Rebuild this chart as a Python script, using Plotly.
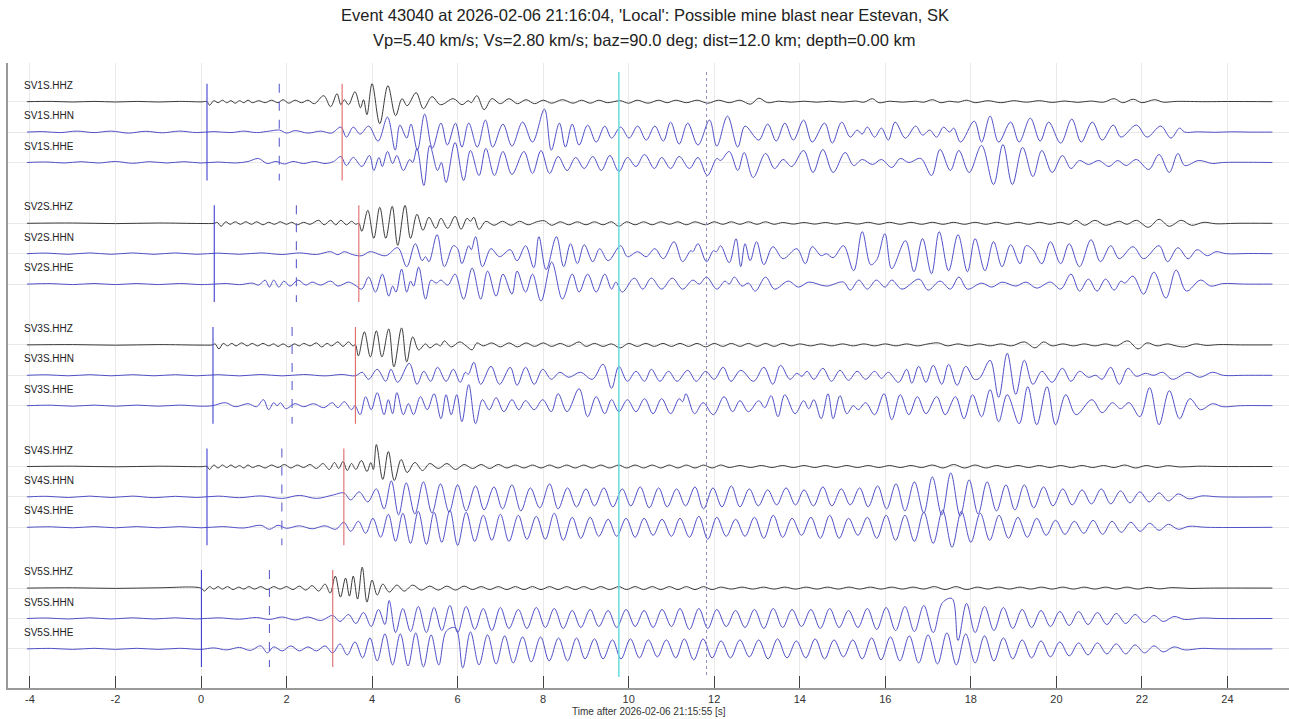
import plotly.graph_objects as go

TITLE_1 = "Event 43040 at 2026-02-06 21:16:04, 'Local': Possible mine blast near Estevan, SK"
TITLE_2 = "Vp=5.40 km/s; Vs=2.80 km/s; baz=90.0 deg; dist=12.0 km; depth=0.00 km"
X_LABEL = "Time after 2026-02-06 21:15:55 [s]"
X_TICKS = [-4, -2, 0, 2, 4, 6, 8, 10, 12, 14, 16, 18, 20, 22, 24]

STATIONS = ["SV1S", "SV2S", "SV3S", "SV4S", "SV5S"]
COMPONENTS = ["HHZ", "HHN", "HHE"]
P_PICKS = [0.14, 0.31, 0.28, 0.14, 0.01]
MID_PICKS = [1.83, 2.23, 2.13, 1.89, 1.60]
S_PICKS = [3.30, 3.69, 3.61, 3.34, 3.08]
CYAN_TIME = 9.77
DOTTED_TIME = 11.82

# waveform extrema: (time [s], amplitude [px, up positive])
SV1_HHZ = [(-4.07,0),(-3.5,0.3),(-3.0,-0.3),(-2.5,0.3),(-2.0,-0.3),(-1.5,0.3),(-1.0,-0.3),(-0.5,0.3),(0.0,-0.2),(0.14,0),
(0.2,-3.5),(0.3,1),(0.4,-1),(0.5,1.5),(0.6,-1),(0.7,1),(0.8,-1.5),(0.9,1),(1.0,-1),(1.1,1.5),(1.2,-1),(1.35,1),(1.5,-1),(1.65,1.5),(1.8,-1),(1.92,2),(2.05,-1.5),(2.2,1.5),(2.35,-1),(2.5,1.5),(2.65,-2),(2.87,6),(3.03,-5),(3.18,8),(3.27,-3),(3.35,2),(3.45,-3),(3.6,10),(3.73,-6),(3.8,2),(3.88,-13),(4.0,18),(4.18,-22),(4.37,16),(4.55,-14),(4.7,3),(4.82,-4),(5.03,9),(5.2,-7),(5.4,5),(5.6,-3),(5.9,3),(6.1,-3),(6.25,1),(6.32,-1),(6.45,6),(6.62,-8),(6.8,3),(7.0,-2),(7.2,3),(7.4,-2),(7.6,2),(7.8,-2),(8.0,1.5),(8.2,-1.5),(8.45,2),(8.7,-1.5),(8.9,1.5),(9.1,-1.5),(9.3,1.5),(9.5,-1),(9.8,1),(10.0,-1.5),(10.2,1.5),(10.45,-1.5),(10.7,1.5),(10.9,-1),(11.1,1.5),(11.35,-1),(11.6,1.5),(11.85,-1.5),(12.1,1.5),(12.35,-1),(12.6,1.5),(12.85,-2.5),(13.04,3.5),(13.25,-1),(13.5,0.5),(13.8,-0.5),(14.1,0.5),(14.4,-0.5),(14.7,0.5),(15.0,-0.5),(15.3,0.7),(15.5,-0.5),(15.7,3),(15.85,-1),(16.1,0.5),(16.4,-0.5),(16.7,0.5),(16.9,-0.5),(17.1,2),(17.3,-1),(17.5,0.5),(17.7,-0.5),(17.9,1.5),(18.1,-1),(18.4,1),(18.7,-1),(19.0,1),(19.3,-0.5),(19.6,1),(19.9,-0.7),(20.2,0.7),(20.5,-0.7),(20.8,0.7),(21.1,-0.5),(21.35,3),(21.55,-1),(21.8,2.5),(22.0,-1),(22.3,2),(22.5,-0.5),(22.8,0.3),(23.5,0),(24.0,0.2),(25.05,0)]
SV1_HHN = [(-4.07,0),(-3.7,0.5),(-3.3,-0.5),(-2.9,1),(-2.5,-0.5),(-2.1,1),(-1.7,-1),(-1.3,0.8),(-0.9,-0.7),(-0.5,1),(-0.1,-0.5),(0.3,0.5),(0.7,-0.5),(1.0,1),(1.3,-0.5),(1.6,1),(1.84,2),(2.0,-1),(2.2,1.5),(2.5,-1),(2.8,1),(3.05,-1),(3.27,5),(3.4,-5),(3.56,5),(3.72,-2),(3.92,6),(4.14,-9),(4.36,15),(4.54,-18),(4.65,7),(4.81,-6),(4.91,8),(5.06,-18),(5.23,18),(5.41,-16),(5.61,9),(5.76,-13),(5.95,9),(6.10,-15),(6.26,9),(6.46,-15),(6.65,12),(6.82,-15),(7.06,8),(7.27,-14),(7.52,10),(7.75,-10),(8.03,23),(8.19,-18),(8.38,9),(8.52,-15),(8.68,8),(8.84,-13),(9.04,7),(9.24,-10),(9.44,6),(9.60,-6),(9.81,5),(10.01,-6),(10.21,6),(10.41,-8),(10.61,6),(10.81,-9),(10.98,10),(11.18,-12),(11.38,9),(11.62,-13),(11.89,12),(12.06,-14),(12.31,16),(12.55,-15),(12.72,6),(13.04,-8),(13.25,8),(13.45,-9),(13.65,9),(13.85,-8),(14.09,12),(14.29,-10),(14.58,9),(14.76,-11),(14.98,10),(15.18,-5),(15.34,2),(15.46,-2),(15.58,5),(15.75,-5),(15.91,4),(16.07,-8),(16.23,10),(16.47,-6),(16.71,6),(16.87,-3),(17.04,2),(17.20,-5),(17.36,5),(17.50,0),(17.60,4),(17.76,-10),(18.08,11),(18.25,-10),(18.45,16),(18.65,-10),(18.93,10),(19.13,-10),(19.39,14),(19.62,-9),(19.82,10),(20.10,-11),(20.36,13),(20.58,-10),(20.84,10),(21.07,-8),(21.33,7),(21.51,-5),(21.87,7),(22.12,-5),(22.44,6),(22.68,-6),(22.88,4),(23.0,0),(23.3,0.3),(23.7,-0.2),(24.1,0.3),(24.5,0),(25.05,0)]
SV1_HHE = [(-4.07,0),(-3.6,0.5),(-3.2,-0.5),(-2.8,0.8),(-2.4,-0.5),(-2.0,1),(-1.6,-0.8),(-1.2,0.8),(-0.8,-0.5),(-0.4,0.8),(0.0,-0.5),(0.4,0.5),(0.8,-0.5),(1.1,1),(1.34,4),(1.55,-1),(1.75,1),(1.95,-1.5),(2.15,1),(2.4,-1),(2.65,1),(2.9,-1),(3.1,1),(3.27,6),(3.40,-3),(3.56,5),(3.76,-4),(3.94,7),(4.04,-8),(4.16,5),(4.24,-4),(4.36,11),(4.48,-1),(4.58,7),(4.73,-8),(4.88,3),(4.95,0),(5.05,14),(5.21,-23),(5.35,17),(5.53,-8),(5.62,0),(5.73,-20),(5.94,20),(6.14,-18),(6.30,12),(6.50,-13),(6.66,14),(6.86,-13),(7.06,11),(7.27,-12),(7.55,11),(7.75,-11),(7.95,12),(8.15,-11),(8.35,6),(8.56,-8),(8.76,5),(8.96,-6),(9.16,6),(9.36,-8),(9.56,7),(9.77,-9),(9.97,5),(10.17,-4),(10.37,8),(10.60,-6),(10.77,5),(10.98,-6),(11.18,6),(11.42,-6),(11.62,5),(11.84,-13),(12.06,4),(12.15,2),(12.35,11),(12.55,-8),(12.7,10),(12.91,-15),(13.2,9),(13.41,-6),(13.61,3),(13.81,-4),(14.09,12),(14.31,-10),(14.54,13),(14.78,-10),(15.06,10),(15.26,-3),(15.46,3),(15.7,-2),(15.91,3),(16.15,-5),(16.35,4),(16.55,0),(16.83,4),(17.08,-13),(17.28,13),(17.52,-8),(17.72,12),(17.96,-10),(18.25,17),(18.53,-22),(18.75,18),(18.97,-22),(19.21,15),(19.45,-14),(19.66,12),(19.9,-10),(20.14,7),(20.34,-6),(20.54,2),(20.75,-2),(20.99,2),(21.23,-4),(21.43,2),(21.63,-3),(21.87,3),(22.16,-7),(22.4,8),(22.64,-10),(22.84,9),(23.0,-3),(23.33,2),(23.65,-1),(23.89,0),(24.5,0.2),(25.05,0)]

SV2_HHZ = [(-4.07,0),(-3,0.3),(-2,-0.3),(-1,0.3),(0,-0.2),(0.31,0),(0.38,1),(0.47,-3),(0.58,1.5),(0.68,-1),(0.8,1.5),(0.92,-1),(1.05,1.5),(1.18,-1),(1.3,1.5),(1.45,-1.5),(1.58,1),(1.72,-1),(1.85,1.5),(2.0,-1),(2.12,1),(2.25,-1.5),(2.4,1),(2.55,-1),(2.75,3),(2.88,-1.5),(3.03,3),(3.15,-1.5),(3.27,3),(3.4,-1.5),(3.52,2),(3.62,-1),(3.69,0),(3.76,-8),(3.9,13),(4.04,-15),(4.18,16),(4.32,-15),(4.47,17),(4.6,-22),(4.77,18),(4.9,-15),(5.05,9),(5.19,-7),(5.33,6),(5.49,-5),(5.61,5),(5.77,-5),(5.94,7),(6.08,-6),(6.22,5),(6.3,2),(6.38,6),(6.5,-6),(6.66,2),(6.85,-2),(7.05,2),(7.25,-2),(7.45,2),(7.65,-1.5),(7.85,1.5),(8.03,2.5),(8.2,-2),(8.4,1.5),(8.6,-1.5),(8.8,1.5),(9.0,-1.5),(9.2,1.5),(9.4,-1.5),(9.6,1.5),(9.77,-3),(9.95,1.5),(10.15,-1.5),(10.35,1.5),(10.55,-1.5),(10.75,1.5),(10.95,-1),(11.15,1.5),(11.35,-1.5),(11.55,1.5),(11.8,-1.5),(12.0,1.5),(12.2,-1),(12.4,1.5),(12.6,-1),(12.8,1.5),(13.0,-1),(13.2,1.5),(13.4,-1),(13.6,0.8),(13.85,-0.8),(14.1,0.8),(14.35,-0.8),(14.6,0.8),(14.85,-0.8),(15.1,0.8),(15.35,-0.8),(15.6,1),(15.85,-1),(16.1,1),(16.35,-1),(16.6,1),(16.85,-1),(17.1,1),(17.35,-1),(17.6,1),(17.85,-1),(18.1,1),(18.35,-1),(18.6,1),(18.85,-1),(19.1,1),(19.35,-1),(19.6,1),(19.85,-1),(20.1,1),(20.3,-1),(20.46,3),(20.66,-2),(20.9,3),(21.15,-2),(21.47,2),(21.65,-1),(21.87,3),(22.15,-4),(22.4,4),(22.64,-3),(22.92,3),(23.16,-2),(23.45,1),(23.73,-0.5),(24.2,0),(25.05,0)]
SV2_HHN = [(-4.07,0),(-3.6,0.6),(-3.1,-0.6),(-2.6,0.8),(-2.1,-0.6),(-1.6,0.8),(-1.1,-0.6),(-0.6,0.8),(-0.1,-0.6),(0.4,0.6),(0.9,-0.6),(1.4,0.8),(1.9,-0.8),(2.3,0.8),(2.7,-0.8),(3.03,2),(3.2,-1),(3.35,2),(3.55,-1),(3.76,-2),(3.95,2),(4.32,-2),(4.6,6),(4.81,-13),(5.01,10),(5.17,-7),(5.25,-3),(5.33,-8),(5.52,19),(5.69,-13),(5.9,8),(6.0,5),(6.1,-10),(6.26,8),(6.32,4),(6.42,17),(6.58,-13),(6.78,5),(6.98,-3),(7.23,4),(7.39,-7),(7.59,8),(7.78,-14),(7.9,17),(8.07,-16),(8.31,17),(8.48,-13),(8.64,10),(8.8,-10),(8.96,9),(9.16,-8),(9.32,5),(9.52,-7),(9.81,8),(9.97,-3),(10.21,2),(10.41,-3),(10.61,5),(10.81,-5),(11.06,12),(11.26,-8),(11.45,3),(11.5,2),(11.62,10),(11.82,-8),(11.98,3),(12.05,2),(12.15,8),(12.35,-9),(12.51,15),(12.62,-13),(12.72,10),(12.84,-7),(12.99,12),(13.16,-11),(13.37,7),(13.61,-5),(13.93,5),(14.13,-10),(14.29,7),(14.5,-2),(14.62,0),(14.78,-4),(15.02,8),(15.26,-17),(15.46,22),(15.66,-11),(15.8,-6),(15.99,20),(16.15,-15),(16.47,13),(16.67,-18),(16.87,15),(17.08,-20),(17.26,22),(17.48,-17),(17.7,19),(17.92,-18),(18.1,15),(18.33,-17),(18.53,12),(18.73,-13),(18.93,9),(19.15,-10),(19.29,8),(19.45,4),(19.66,-10),(19.86,12),(20.1,-10),(20.3,10),(20.54,-13),(20.81,14),(21.03,-8),(21.27,8),(21.47,-5),(21.79,7),(22.04,-5),(22.4,8),(22.6,-8),(22.84,6),(23.08,-5),(23.29,4),(23.53,-2),(23.73,2),(23.97,0),(24.5,0.2),(25.05,0)]
SV2_HHE = [(-4.07,0),(-3.5,0.5),(-3.0,-0.5),(-2.5,0.6),(-2.0,-0.5),(-1.5,0.6),(-1.0,-0.5),(-0.5,0.6),(0.0,-0.5),(0.31,0),(0.6,0.6),(0.9,-0.6),(1.2,1),(1.35,-1),(1.5,4),(1.6,-3),(1.7,4),(1.82,-3),(1.94,3),(2.08,-2),(2.27,4),(2.45,-1),(2.6,2),(2.8,-1),(3.03,3),(3.2,-2),(3.45,2),(3.6,-1),(3.76,-5),(3.92,7),(4.08,-8),(4.24,10),(4.39,-12),(4.48,-2),(4.56,-8),(4.69,15),(4.81,-8),(4.9,3),(4.97,-2),(5.09,17),(5.25,-15),(5.38,4),(5.5,1),(5.61,4),(5.77,-1),(5.94,10),(6.14,-15),(6.34,16),(6.54,-15),(6.7,13),(6.9,-12),(7.06,10),(7.27,-10),(7.39,13),(7.59,-8),(7.75,10),(7.95,-17),(8.2,22),(8.45,-15),(8.68,10),(8.84,-8),(9.04,10),(9.24,-8),(9.44,10),(9.6,-5),(9.7,2),(9.85,-8),(10.13,6),(10.33,-5),(10.53,6),(10.77,-5),(11.02,6),(11.26,-5),(11.5,4),(11.65,0),(11.82,7),(12.06,-5),(12.25,3),(12.35,0),(12.47,7),(12.65,-2),(12.8,1),(12.96,-7),(13.2,7),(13.41,-5),(13.73,3),(13.97,-3),(14.21,2),(14.62,-2),(15.02,2),(15.18,-6),(15.38,4),(15.58,-5),(15.79,4),(15.99,-3),(16.15,4),(16.39,-5),(16.79,5),(17.0,-6),(17.28,3),(17.52,-5),(17.72,7),(17.92,-5),(18.25,1),(18.49,-3),(18.73,2),(19.05,-2),(19.29,2),(19.54,-4),(19.86,2),(20.1,-5),(20.34,10),(20.54,-7),(20.75,5),(20.95,-7),(21.15,5),(21.35,-6),(21.51,3),(21.6,1),(21.79,8),(22.04,-10),(22.28,12),(22.56,-14),(22.8,14),(23.04,-7),(23.37,4),(23.61,-2),(23.89,0.5),(24.4,0),(25.05,0)]

SV3_HHZ = [(-4.07,0),(-3,0.3),(-2,-0.3),(-1,0.3),(0,-0.2),(0.27,0),(0.33,1),(0.42,-4),(0.52,1.5),(0.62,-1),(0.72,1.5),(0.82,-1),(0.95,2),(1.08,-1),(1.2,1.5),(1.32,-1),(1.45,1.5),(1.58,-1),(1.7,1),(1.8,-1.5),(1.92,1),(2.05,-2),(2.18,1),(2.3,-1),(2.4,1.5),(2.55,-1),(2.7,2),(2.82,-2),(2.95,1.5),(3.05,-1),(3.2,3),(3.32,-1.5),(3.45,3),(3.55,-1),(3.61,0),(3.68,-11),(3.82,13),(3.96,-12),(4.1,14),(4.23,-12),(4.39,16),(4.51,-22),(4.69,17),(4.81,-17),(4.95,8),(5.09,-5),(5.25,1),(5.35,-3),(5.5,1),(5.6,-1),(5.69,4),(5.85,-2),(6.05,3),(6.2,-1),(6.34,-5),(6.45,2),(6.6,-1),(6.8,2),(7.0,-2),(7.2,2),(7.4,-2),(7.6,2),(7.8,-1.5),(8.0,2),(8.2,-1.5),(8.4,1.5),(8.6,-1.5),(8.84,3),(9.0,-1.5),(9.2,1.5),(9.4,-1.5),(9.6,1),(9.8,-3),(10.0,1.5),(10.2,-1.5),(10.4,1.5),(10.6,-1.5),(10.8,1.5),(11.0,-1.5),(11.2,1.5),(11.4,-1.5),(11.6,1.5),(11.8,-2),(12.0,1.5),(12.2,-1.5),(12.4,1.5),(12.6,-1.5),(12.8,1.5),(13.0,-1.5),(13.2,1.5),(13.4,-1.5),(13.6,1.5),(13.8,-1),(14.0,1),(14.25,-1),(14.5,1),(14.75,-1),(15.0,1),(15.25,-1),(15.5,1),(15.75,-1),(16.0,1),(16.25,-1),(16.5,1),(16.75,-1),(17.0,1),(17.24,2),(17.45,-1),(17.7,1),(17.95,-1),(18.2,1),(18.45,-1),(18.7,1),(18.95,-1),(19.25,3),(19.5,-3),(19.7,3),(19.9,-1),(20.15,1),(20.4,-1),(20.65,1),(20.9,-1),(21.15,1),(21.4,-1),(21.67,4),(21.91,-4),(22.12,2),(22.35,-1),(22.6,1),(22.8,-1),(23.0,-2),(23.25,1),(23.5,-0.5),(23.8,0.3),(24.3,0),(25.05,0)]
SV3_HHN = [(-4.07,0),(-3.6,0.5),(-3.1,-0.5),(-2.6,0.6),(-2.1,-0.5),(-1.6,0.6),(-1.1,-0.5),(-0.6,0.6),(-0.1,-0.5),(0.4,0.6),(0.9,-0.6),(1.4,0.8),(1.9,-0.6),(2.4,0.8),(2.9,-0.6),(3.3,0.8),(3.61,-0.5),(3.77,3),(3.92,-4),(4.12,6),(4.32,-6),(4.44,6),(4.6,-7),(4.87,12),(5.05,-9),(5.21,4),(5.37,-6),(5.53,8),(5.73,-6),(5.9,6),(6.06,-7),(6.18,3),(6.25,1),(6.38,13),(6.54,-9),(6.78,9),(6.98,-9),(7.23,8),(7.39,-10),(7.59,8),(7.79,-9),(7.99,6),(8.19,-4),(8.39,3),(8.6,-2),(8.87,3),(9.15,-4),(9.4,11),(9.6,-13),(9.77,9),(9.97,-6),(10.17,4),(10.37,-6),(10.53,6),(10.73,-6),(10.93,4),(11.13,-6),(11.38,5),(11.58,-6),(11.8,4),(12.0,-4),(12.21,8),(12.39,-6),(12.62,5),(12.92,-6),(13.16,8),(13.37,-9),(13.55,10),(13.77,-4),(13.93,2),(14.05,-1),(14.17,4),(14.33,-4),(14.54,7),(14.74,-6),(14.94,5),(15.14,-5),(15.34,4),(15.54,-4),(15.75,4),(15.91,-3),(16.07,3),(16.31,-7),(16.5,6),(16.62,-8),(16.78,9),(16.95,-7),(17.12,10),(17.32,-9),(17.48,11),(17.68,-10),(17.88,9),(18.08,-4),(18.2,-3),(18.45,15),(18.65,-22),(18.85,22),(19.05,-19),(19.25,15),(19.45,-9),(19.66,4),(19.9,-7),(20.14,7),(20.34,-6),(20.54,4),(20.75,-2),(20.92,0),(21.07,-4),(21.27,8),(21.47,-9),(21.67,7),(21.87,-1),(22.08,2),(22.28,0),(22.48,3),(22.72,-4),(23.08,3),(23.35,-2),(23.65,3),(23.9,0),(24.4,0),(25.05,0)]
SV3_HHE = [(-4.07,0),(-3.5,0.5),(-3.0,-0.5),(-2.5,0.6),(-2.0,-0.5),(-1.5,0.6),(-1.0,-0.5),(-0.5,0.6),(0.0,-0.5),(0.27,0),(0.57,3),(0.8,-1),(1.1,2),(1.3,-1),(1.46,6),(1.58,-4),(1.7,3),(1.78,0),(1.86,3),(1.98,-3),(2.2,2),(2.4,-1),(2.63,2),(2.87,-2),(3.07,3),(3.2,-2),(3.35,4),(3.52,-4),(3.6,0),(3.72,-9),(3.85,9),(3.98,-4),(4.12,13),(4.28,-9),(4.38,6),(4.48,-8),(4.58,13),(4.73,-9),(4.85,2),(4.97,-9),(5.13,9),(5.29,-4),(5.45,12),(5.61,-13),(5.73,11),(5.85,-9),(5.98,11),(6.1,-16),(6.26,21),(6.42,-18),(6.58,6),(6.74,-4),(6.9,8),(7.08,-6),(7.27,6),(7.43,-4),(7.59,5),(7.79,-4),(7.99,6),(8.19,-6),(8.35,12),(8.56,-6),(8.84,17),(9.04,-11),(9.24,9),(9.44,-8),(9.6,6),(9.77,-6),(9.97,6),(10.17,-6),(10.37,7),(10.57,-8),(10.77,7),(10.98,-8),(11.18,7),(11.26,4),(11.34,12),(11.54,-8),(11.74,3),(11.98,-9),(12.23,9),(12.43,-6),(12.6,5),(12.8,-6),(13.04,5),(13.18,-2),(13.33,10),(13.49,-11),(13.65,11),(13.89,-8),(14.09,5),(14.21,-3),(14.33,6),(14.5,-13),(14.66,12),(14.78,-13),(14.94,10),(15.1,-8),(15.25,0),(15.37,-4),(15.54,3),(15.75,-9),(15.97,12),(16.15,-14),(16.35,11),(16.55,-9),(16.75,9),(16.95,-8),(17.2,9),(17.4,-9),(17.64,9),(17.84,-13),(18.04,11),(18.25,-11),(18.45,16),(18.65,-16),(18.85,11),(19.13,-18),(19.33,19),(19.54,-19),(19.78,19),(19.98,-19),(20.22,11),(20.46,-9),(20.83,6),(21.07,-7),(21.31,3),(21.5,-3),(21.7,3),(21.95,-11),(22.18,18),(22.4,-19),(22.64,15),(22.88,-13),(23.12,7),(23.37,-4),(23.65,2),(23.89,-1),(24.3,0),(25.05,0)]

SV4_HHZ = [(-4.07,0),(-3,0.3),(-2,-0.3),(-1,0.3),(0,-0.2),(0.14,0),(0.2,-3),(0.3,1.5),(0.4,-1.5),(0.5,1.5),(0.6,-1),(0.7,1.5),(0.8,-1),(0.9,1),(1.0,-1.5),(1.1,1.5),(1.2,-1),(1.35,1),(1.5,-1.5),(1.65,1.5),(1.8,-1),(1.95,2),(2.1,-1.5),(2.25,1.5),(2.4,-1),(2.55,2),(2.7,-2),(2.85,3),(3.0,-3),(3.12,4),(3.22,-2),(3.32,5),(3.42,-4),(3.52,3),(3.62,-3),(3.75,6),(3.88,-5),(3.97,4),(4.03,-3),(4.1,22),(4.25,-13),(4.38,15),(4.52,-14),(4.68,7),(4.82,-6),(5.0,4),(5.18,-4),(5.35,3),(5.55,-2),(5.75,3),(5.95,-3),(6.15,2),(6.35,-2),(6.55,2),(6.75,-2),(6.95,2),(7.15,-1.5),(7.35,1.5),(7.55,-1.5),(7.75,1.5),(7.95,-1.5),(8.15,1.5),(8.35,-1.5),(8.55,1.5),(8.75,-1.5),(8.95,1.5),(9.15,-1.5),(9.35,1.5),(9.55,-1.5),(9.77,1.5),(9.95,-1.5),(10.15,1.5),(10.35,-1.5),(10.55,1.5),(10.75,-1.5),(10.95,1.5),(11.15,-1.5),(11.35,1.5),(11.55,-1.5),(11.75,1.5),(11.95,-1.5),(12.15,1.5),(12.35,-1),(12.6,1),(12.85,-1),(13.1,1),(13.35,-1),(13.6,1),(13.85,-1),(14.1,1),(14.35,-1),(14.6,1),(14.85,-1),(15.1,1),(15.35,-1),(15.6,1),(15.85,-1),(16.1,1),(16.35,-1),(16.6,1),(16.85,-1),(17.1,1.5),(17.35,-1.5),(17.6,2),(17.85,-1.5),(18.1,1.5),(18.35,-1.5),(18.6,1),(18.85,-1),(19.1,1),(19.35,-1),(19.6,1),(19.85,-1),(20.1,1),(20.35,-1),(20.6,1),(20.85,-1),(21.1,1),(21.35,-1),(21.6,1.5),(21.85,-1.5),(22.1,1),(22.35,-1),(22.6,0.8),(22.9,-0.5),(23.3,0.3),(23.8,0),(25.05,0)]
SV4_HHN = [(-4.07,0),(-3.6,0.6),(-3.1,-0.6),(-2.6,0.8),(-2.1,-0.6),(-1.6,0.8),(-1.1,-0.8),(-0.6,0.6),(-0.1,-0.6),(0.4,0.8),(0.9,-0.8),(1.4,1),(1.9,-1.5),(2.3,1.5),(2.7,-1.5),(3.1,2),(3.34,4),(3.5,-3),(3.7,5),(3.9,-5),(4.1,8),(4.28,-12),(4.45,16),(4.62,-18),(4.8,14),(5.0,-17),(5.2,15),(5.4,-16),(5.6,13),(5.8,-15),(6.0,12),(6.2,-14),(6.42,11),(6.62,-13),(6.85,10),(7.05,-12),(7.27,12),(7.48,-14),(7.7,9),(7.92,-11),(8.15,13),(8.35,-12),(8.57,9),(8.78,-10),(9.0,8),(9.2,-9),(9.42,9),(9.63,-10),(9.85,8),(10.05,-9),(10.27,10),(10.48,-11),(10.7,9),(10.9,-10),(11.12,8),(11.33,-9),(11.55,10),(11.75,-12),(11.97,9),(12.18,-10),(12.4,11),(12.6,-10),(12.82,8),(13.03,-9),(13.25,7),(13.46,-8),(13.68,9),(13.9,-8),(14.1,7),(14.32,-9),(14.54,10),(14.75,-9),(14.97,8),(15.18,-8),(15.4,9),(15.6,-10),(15.82,11),(16.03,-12),(16.25,13),(16.46,-14),(16.68,15),(16.9,-16),(17.1,20),(17.32,-18),(17.53,24),(17.75,-19),(17.96,17),(18.17,-17),(18.38,15),(18.6,-14),(18.82,12),(19.03,-13),(19.25,12),(19.47,-11),(19.7,10),(19.92,-9),(20.15,8),(20.37,-8),(20.6,7),(20.82,-7),(21.05,8),(21.27,-7),(21.5,6),(21.72,-6),(21.95,5),(22.17,-5),(22.4,4),(22.62,-4),(22.85,3),(23.1,-2),(23.4,1),(23.8,0),(25.05,0)]
SV4_HHE = [(-4.07,0),(-3.5,0.5),(-3.0,-0.5),(-2.5,0.7),(-2.0,-0.5),(-1.5,0.7),(-1.0,-0.5),(-0.5,0.7),(0.0,-0.5),(0.5,0.7),(1.0,-0.7),(1.4,2),(1.6,-2),(1.8,2),(2.0,-1),(2.3,1.5),(2.6,-1.5),(2.9,1.5),(3.15,-2),(3.34,5),(3.5,-4),(3.68,6),(3.85,-6),(4.02,9),(4.2,-10),(4.38,13),(4.55,-14),(4.72,14),(4.9,-16),(5.08,16),(5.27,-17),(5.45,15),(5.63,-15),(5.82,17),(6.0,-18),(6.2,15),(6.4,-14),(6.6,12),(6.8,-13),(7.0,13),(7.2,-14),(7.42,12),(7.62,-12),(7.84,11),(8.05,-12),(8.26,14),(8.47,-13),(8.68,10),(8.88,-11),(9.1,10),(9.3,-9),(9.52,8),(9.72,-9),(9.94,9),(10.15,-10),(10.36,9),(10.57,-8),(10.78,8),(11.0,-9),(11.2,9),(11.42,-10),(11.64,11),(11.85,-12),(12.06,10),(12.28,-9),(12.5,8),(12.72,-9),(12.94,10),(13.16,-11),(13.38,12),(13.6,-10),(13.82,9),(14.04,-8),(14.26,10),(14.48,-11),(14.7,12),(14.92,-11),(15.14,9),(15.36,-8),(15.58,10),(15.8,-11),(16.02,12),(16.24,-13),(16.46,12),(16.68,-14),(16.9,15),(17.12,-16),(17.34,17),(17.56,-20),(17.78,16),(18.0,-15),(18.22,14),(18.44,-13),(18.66,12),(18.88,-11),(19.1,10),(19.32,-10),(19.54,9),(19.76,-8),(19.98,7),(20.2,-7),(20.42,6),(20.64,-6),(20.86,7),(21.08,-7),(21.3,6),(21.52,-5),(21.74,5),(21.96,-4),(22.18,4),(22.4,-3),(22.62,3),(22.85,-2),(23.1,1),(23.5,0),(25.05,0)]

SV5_HHZ = [(-4.07,0),(-3,0.3),(-2,-0.3),(-1,0.3),(0.0,0),(0.08,-3),(0.2,1.5),(0.3,-1),(0.4,1.5),(0.5,-1),(0.62,1.5),(0.75,-1.5),(0.88,1),(1.0,-1),(1.12,1.5),(1.25,-1),(1.4,1.5),(1.55,-1.5),(1.7,1.5),(1.85,-1),(2.0,1.5),(2.15,-1.5),(2.3,2),(2.45,-2),(2.6,2.5),(2.75,-3),(2.9,4),(3.02,-5),(3.14,12),(3.26,-9),(3.38,10),(3.47,-8),(3.56,12),(3.66,-11),(3.77,21),(3.88,-14),(4.0,8),(4.12,-7),(4.25,4),(4.4,-4),(4.58,3),(4.75,-3),(4.95,3),(5.15,-2),(5.35,2),(5.55,-2),(5.75,2),(5.95,-2),(6.15,2),(6.35,-1.5),(6.55,1.5),(6.75,-1.5),(6.95,1.5),(7.15,-1.5),(7.35,1.5),(7.55,-1.5),(7.75,1.5),(7.95,-1.5),(8.15,1.5),(8.35,-1.5),(8.55,1.5),(8.75,-1.5),(8.95,1.5),(9.15,-1.5),(9.35,1.5),(9.55,-1.5),(9.77,1.5),(9.95,-1.5),(10.15,1.5),(10.35,-1.5),(10.55,1.5),(10.75,-1.5),(10.95,1.5),(11.15,-1.5),(11.35,1.5),(11.55,-1.5),(11.75,1.5),(11.95,-1.5),(12.15,1),(12.4,-1),(12.65,1),(12.9,-1),(13.15,1),(13.4,-1),(13.65,1),(13.9,-1),(14.15,1),(14.4,-1),(14.65,1),(14.9,-1),(15.15,1),(15.4,-1),(15.65,1),(15.9,-1),(16.15,1),(16.4,-1),(16.65,1),(16.9,-1),(17.15,1.5),(17.4,-1.5),(17.65,1.5),(17.9,-1.5),(18.15,1),(18.4,-1),(18.65,1),(18.9,-1),(19.15,1),(19.4,-1),(19.65,1),(19.9,-1),(20.15,1),(20.4,-1),(20.65,1),(20.9,-1),(21.15,1),(21.4,-1),(21.65,1),(21.9,-1),(22.15,0.8),(22.4,-0.8),(22.7,0.5),(23.1,-0.3),(23.6,0),(25.05,0)]
SV5_HHN = [(-4.07,0),(-3.6,0.5),(-3.1,-0.5),(-2.6,0.7),(-2.1,-0.5),(-1.6,0.7),(-1.1,-0.5),(-0.6,0.7),(-0.1,-0.5),(0.4,0.7),(0.9,-0.7),(1.3,1),(1.6,-1),(1.9,1.5),(2.2,-1.5),(2.5,1.5),(2.8,-2),(3.08,3),(3.25,-3),(3.45,4),(3.62,-5),(3.8,6),(3.98,-8),(4.15,9),(4.3,-6),(4.4,18),(4.55,-14),(4.72,10),(4.9,-13),(5.08,12),(5.27,-14),(5.45,11),(5.63,-12),(5.82,13),(6.0,-14),(6.2,12),(6.4,-11),(6.6,10),(6.8,-12),(7.0,11),(7.2,-10),(7.42,9),(7.62,-10),(7.84,11),(8.05,-9),(8.26,10),(8.47,-10),(8.68,8),(8.88,-9),(9.1,9),(9.3,-8),(9.52,8),(9.72,-9),(9.94,9),(10.15,-8),(10.36,8),(10.57,-9),(10.78,9),(11.0,-8),(11.2,10),(11.42,-11),(11.64,10),(11.85,-10),(12.06,9),(12.28,-8),(12.5,8),(12.72,-9),(12.94,9),(13.16,-10),(13.38,10),(13.6,-9),(13.82,9),(14.04,-8),(14.26,9),(14.48,-10),(14.7,10),(14.92,-9),(15.14,8),(15.36,-9),(15.58,10),(15.8,-11),(16.02,11),(16.24,-12),(16.46,12),(16.68,-13),(16.9,13),(17.12,-14),(17.34,16),(17.56,20),(17.7,-22),(17.9,15),(18.1,-14),(18.32,12),(18.54,-12),(18.76,11),(18.98,-10),(19.2,9),(19.42,-9),(19.64,8),(19.86,-8),(20.08,7),(20.3,-7),(20.52,7),(20.74,-6),(20.96,6),(21.18,-6),(21.4,5),(21.62,-5),(21.84,4),(22.06,-4),(22.28,3),(22.5,-3),(22.75,2),(23.0,-1),(23.4,0.5),(23.8,0),(25.05,0)]
SV5_HHE = [(-4.07,0),(-3.5,0.5),(-3.0,-0.5),(-2.5,0.6),(-2.0,-0.5),(-1.5,0.6),(-1.0,-0.5),(-0.5,0.6),(0.0,-0.5),(0.3,1),(0.6,-1),(0.9,1.5),(1.15,-1.5),(1.4,3),(1.55,-4),(1.7,2),(1.9,-2),(2.1,3),(2.3,-2),(2.5,2),(2.7,-2),(2.9,3),(3.08,-4),(3.25,5),(3.42,-6),(3.6,7),(3.78,-9),(3.95,11),(4.12,-12),(4.3,15),(4.48,-16),(4.66,15),(4.84,-17),(5.02,16),(5.2,-18),(5.38,14),(5.56,-16),(5.74,18),(5.95,21),(6.12,-19),(6.3,17),(6.5,-16),(6.7,14),(6.9,-15),(7.1,13),(7.3,-14),(7.52,12),(7.72,-13),(7.94,12),(8.14,-12),(8.36,11),(8.57,-12),(8.78,11),(8.98,-10),(9.2,10),(9.4,-10),(9.62,9),(9.82,-10),(10.04,10),(10.25,-9),(10.46,9),(10.67,-8),(10.88,9),(11.1,-9),(11.3,10),(11.52,-11),(11.74,10),(11.95,-9),(12.16,8),(12.38,-9),(12.6,9),(12.82,-8),(13.04,9),(13.26,-10),(13.48,10),(13.7,-9),(13.92,8),(14.14,-9),(14.36,10),(14.58,-10),(14.8,9),(15.02,-8),(15.24,9),(15.46,-10),(15.68,11),(15.9,-11),(16.12,12),(16.34,-12),(16.56,13),(16.78,-14),(17.0,14),(17.22,-15),(17.44,16),(17.66,-16),(17.88,15),(18.1,-14),(18.32,13),(18.54,-12),(18.76,11),(18.98,-10),(19.2,9),(19.42,-9),(19.64,8),(19.86,-8),(20.08,7),(20.3,-7),(20.52,6),(20.74,-6),(20.96,6),(21.18,-5),(21.4,5),(21.62,-5),(21.84,4),(22.06,-4),(22.28,3),(22.5,-3),(22.75,2),(23.0,-1),(23.4,0.5),(23.8,0),(25.05,0)]

WAVEFORMS = {
    ("SV1S", "HHZ"): SV1_HHZ, ("SV1S", "HHN"): SV1_HHN, ("SV1S", "HHE"): SV1_HHE,
    ("SV2S", "HHZ"): SV2_HHZ, ("SV2S", "HHN"): SV2_HHN, ("SV2S", "HHE"): SV2_HHE,
    ("SV3S", "HHZ"): SV3_HHZ, ("SV3S", "HHN"): SV3_HHN, ("SV3S", "HHE"): SV3_HHE,
    ("SV4S", "HHZ"): SV4_HHZ, ("SV4S", "HHN"): SV4_HHN, ("SV4S", "HHE"): SV4_HHE,
    ("SV5S", "HHZ"): SV5_HHZ, ("SV5S", "HHN"): SV5_HHN, ("SV5S", "HHE"): SV5_HHE,
}

# ---- layout constants (vertical axis in screen-pixel units) ----
W, H = 1289, 719
PLOT_L, PLOT_R, PLOT_T, PLOT_B = 8, 1289, 63, 688
X0, PX_PER_S = 201.0, 42.77
XR = [(PLOT_L - X0) / PX_PER_S, (PLOT_R - X0) / PX_PER_S]
BASE0, SLOT = 101.7, 30.4
FONT = "Liberation Sans, Arial, sans-serif"

COLOR_Z = "#3a3a3a"
COLOR_H = "#5050c8"


def baseline(si, ci):
    return BASE0 + (si * 4 + ci) * SLOT


def paper_y(px):
    return (PLOT_B - px) / (PLOT_B - PLOT_T)


fig = go.Figure()
shapes = []
annotations = []
gridvals = []

for si, st in enumerate(STATIONS):
    for ci, comp in enumerate(COMPONENTS):
        b = baseline(si, ci)
        gridvals.append(b)
        pts = WAVEFORMS[(st, comp)]
        fig.add_trace(go.Scatter(
            x=[p[0] for p in pts], y=[b - p[1] for p in pts],
            mode="lines",
            line=dict(color=COLOR_Z if comp == "HHZ" else COLOR_H, width=1, shape="spline", smoothing=1.0),
            hoverinfo="skip", showlegend=False))
        annotations.append(dict(x=(22 - PLOT_L) / (PLOT_R - PLOT_L), xref="paper",
                                y=paper_y(b - 16.5), yref="paper",
                                text=f"{st}.{comp}", showarrow=False, xanchor="left", yanchor="middle",
                                font=dict(family=FONT, size=10, color="#222")))
    top = baseline(si, 0) - 18
    bot = baseline(si, 2) + 18
    shapes.append(dict(type="line", xref="x", yref="y", x0=P_PICKS[si], x1=P_PICKS[si], y0=top, y1=bot,
                       line=dict(color="#4040d0", width=1.1)))
    shapes.append(dict(type="line", xref="x", yref="y", x0=MID_PICKS[si], x1=MID_PICKS[si], y0=top, y1=bot,
                       line=dict(color="#6060cc", width=1.1, dash="dash")))
    shapes.append(dict(type="line", xref="x", yref="y", x0=S_PICKS[si], x1=S_PICKS[si], y0=top, y1=bot,
                       line=dict(color="#e06a6a", width=1.1)))

shapes.append(dict(type="line", xref="x", yref="y", x0=CYAN_TIME, x1=CYAN_TIME, y0=72, y1=677,
                   line=dict(color="#66dde0", width=1.5)))
shapes.append(dict(type="line", xref="x", yref="y", x0=DOTTED_TIME, x1=DOTTED_TIME, y0=72, y1=677,
                   line=dict(color="#9090c0", width=1, dash="dot")))

annotations.append(dict(x=0.497, xref="paper", y=paper_y(15), yref="paper", text=TITLE_1, showarrow=False,
                        xanchor="center", yanchor="middle",
                        font=dict(family=FONT, size=16.5, color="#222")))
annotations.append(dict(x=0.497, xref="paper", y=paper_y(40), yref="paper", text=TITLE_2, showarrow=False,
                        xanchor="center", yanchor="middle",
                        font=dict(family=FONT, size=16.5, color="#222")))
annotations.append(dict(x=0.5, xref="paper", y=paper_y(711), yref="paper", text=X_LABEL, showarrow=False,
                        xanchor="center", yanchor="middle",
                        font=dict(family=FONT, size=10, color="#333")))

fig.update_layout(
    width=W, height=H, margin=dict(l=PLOT_L, r=W - PLOT_R, t=PLOT_T, b=H - PLOT_B),
    paper_bgcolor="white", plot_bgcolor="white",
    shapes=shapes, annotations=annotations,
    xaxis=dict(range=XR, tickvals=X_TICKS, ticktext=[str(v) for v in X_TICKS],
               ticks="inside", ticklen=12, tickcolor="#444", tickwidth=1,
               showline=True, linecolor="#999", linewidth=1.5,
               showgrid=True, gridcolor="#e9e9e9", gridwidth=1, zeroline=False,
               tickfont=dict(family=FONT, size=11, color="#333")),
    yaxis=dict(range=[PLOT_B, PLOT_T], tickvals=gridvals, showticklabels=False, ticks="",
               showline=True, linecolor="#999", linewidth=1.5,
               showgrid=True, gridcolor="#e9e9e9", gridwidth=1, zeroline=False),
)

fig.write_html("out.html")
